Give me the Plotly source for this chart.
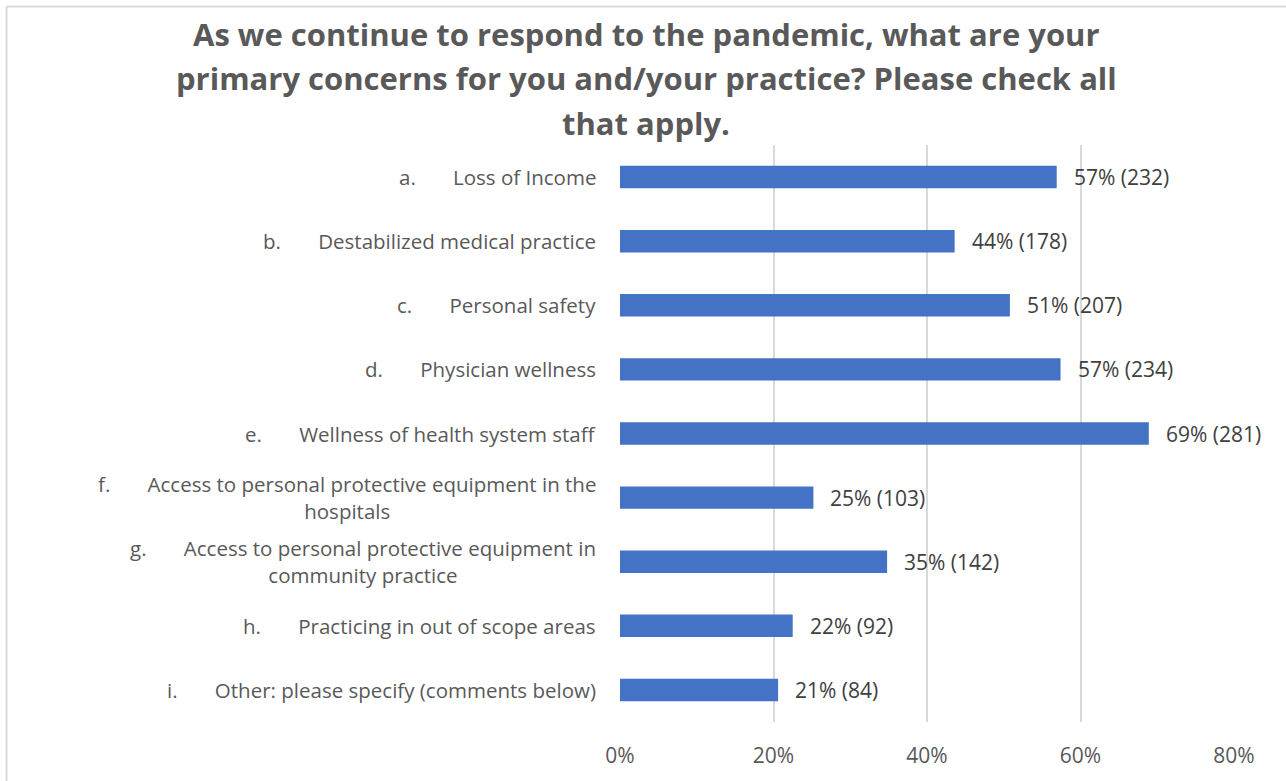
import plotly.graph_objects as go

letters = ["a.", "b.", "c.", "d.", "e.", "f.", "g.", "h.", "i."]
categories = [
    "Loss of Income",
    "Destabilized medical practice",
    "Personal safety",
    "Physician wellness",
    "Wellness of health system staff",
    "Access to personal protective equipment in the<br>hospitals",
    "Access to personal protective equipment in<br>community practice",
    "Practicing in out of scope areas",
    "Other: please specify (comments below)",
]
shares = [0.569, 0.436, 0.508, 0.574, 0.689, 0.252, 0.348, 0.225, 0.206]
pct_labels = [57, 44, 51, 57, 69, 25, 35, 22, 21]
counts = [232, 178, 207, 234, 281, 103, 142, 92, 84]
title_lines = [
    "As we continue to respond to the pandemic, what are your",
    "primary concerns for you and/your practice? Please check all",
    "that apply.",
]
x_ticks = [0, 0.2, 0.4, 0.6, 0.8]

W, H = 1286, 781
ML, MR, MT, MB = 620, 52, 145, 55
PW, PH = W - ML - MR, H - MT - MB

def px_x(px):
    return (px - ML) / PW

def px_y(py):
    return (H - MB - py) / PH

FONT = "Open Sans"
GREY = "#595959"

keys = [f"{l} {c}" for l, c in zip(letters, categories)]

fig = go.Figure(go.Bar(
    x=shares, y=keys, orientation="h",
    marker=dict(color="#4472C4", line=dict(width=0)),
    width=0.35, hoverinfo="skip",
))

annotations = []
sp = "\u00a0" * 7
for k, l, c in zip(keys, letters, categories):
    annotations.append(dict(
        x=0, xref="paper", y=k, yref="y", xanchor="right", yanchor="middle",
        xshift=-22, align="center", showarrow=False,
        text=f"{l}{sp}{c}", font=dict(family=FONT, size=20.5, color=GREY),
    ))
for k, v, p, n in zip(keys, shares, pct_labels, counts):
    annotations.append(dict(
        x=v, xref="x", y=k, yref="y", xanchor="left", yanchor="middle",
        xshift=15, showarrow=False,
        text=f"{p}% ({n})", font=dict(family=FONT, size=21, color="#404040"),
    ))
for line, cy in zip(title_lines, [33, 78, 123]):
    annotations.append(dict(
        x=px_x(646), xref="paper", y=px_y(cy), yref="paper",
        xanchor="center", yanchor="middle", showarrow=False,
        text=f"<b>{line}</b>", font=dict(family=FONT, size=31, color=GREY),
    ))

shapes = [
    dict(type="line", xref="paper", yref="paper",
         x0=px_x(6.5), x1=px_x(6.5), y0=px_y(5.5), y1=px_y(790),
         line=dict(color="#D9D9D9", width=2)),
    dict(type="line", xref="paper", yref="paper",
         x0=px_x(6.5), x1=px_x(1300), y0=px_y(5.5), y1=px_y(5.5),
         line=dict(color="#D9D9D9", width=2)),
]

fig.update_layout(
    width=W, height=H,
    margin=dict(l=ML, r=MR, t=MT, b=MB, pad=0),
    paper_bgcolor="white", plot_bgcolor="white",
    showlegend=False,
    annotations=annotations, shapes=shapes,
    font=dict(family=FONT, size=19, color=GREY),
)
fig.update_xaxes(
    range=[0, 0.8], tickvals=x_ticks, tickformat=".0%",
    showgrid=True, gridcolor="#D9D9D9", gridwidth=1.5,
    zeroline=False, showline=False, ticks="",
    ticklabelstandoff=19,
    tickfont=dict(family=FONT, size=21, color=GREY),
)
fig.update_yaxes(
    categoryorder="array", categoryarray=keys, autorange="reversed",
    showticklabels=False, showgrid=False, zeroline=False, showline=False,
)

fig.write_html("out.html")
